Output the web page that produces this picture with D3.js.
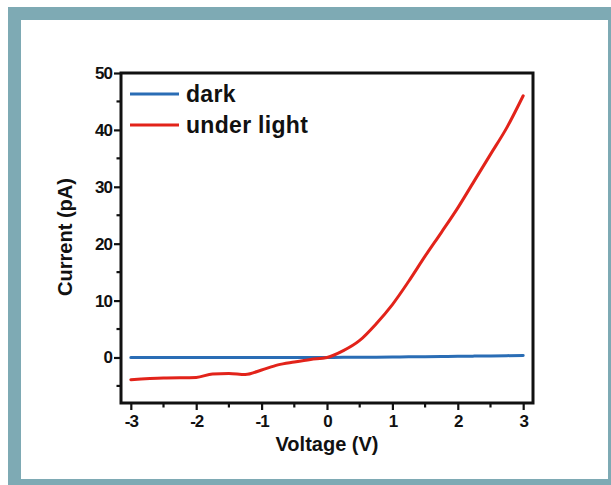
<html>
<head>
  <meta charset="utf-8" />
  <title>I-V curve</title>
  <style type="text/css">
    body { margin: 0; background: white; }
    svg { display: block; }
    text { font-family: "Liberation Sans", Arial, sans-serif; font-weight: bold; fill: #111; }
  </style>
  <script src="https://d3js.org/d3.v7.min.js"></script>
</head>
<body>
  <svg width="611" height="485"></svg>
<script>
  // data
  var voltage = [-3, -2.5, -2, -1.75, -1.5, -1.25, -1, -0.75, -0.5, -0.25, 0, 0.25, 0.5, 0.75, 1, 1.25, 1.5, 1.75, 2, 2.25, 2.5, 2.75, 3]
  var darkCurrent = [0, 0, 0, 0, 0, 0, 0, 0, 0, 0, 0, 0.02, 0.04, 0.06, 0.08, 0.11, 0.14, 0.17, 0.2, 0.24, 0.28, 0.32, 0.36]
  var lightCurrent = [-3.9, -3.6, -3.5, -2.9, -2.8, -3.0, -2.2, -1.3, -0.8, -0.35, 0, 1.2, 3.0, 5.9, 9.3, 13.4, 17.8, 22.0, 26.3, 31.0, 35.7, 40.4, 46.0]
  var seriesNames = ["dark", "under light"]
  var seriesColors = ["#2a6db5", "#e2231a"]
  var xTicks = [-3, -2, -1, 0, 1, 2, 3]
  var yTicks = [0, 10, 20, 30, 40, 50]

  var svg = d3.select("svg")

  // teal frame
  svg.append("rect").attr("x", 8).attr("y", 7).attr("width", 603).attr("height", 478).style("fill", "#7eaab4")
  svg.append("rect").attr("x", 21).attr("y", 20).attr("width", 587).attr("height", 459).style("fill", "white")

  var x = d3.scaleLinear().domain([-3.15, 3.15]).range([121, 533])
  var y = d3.scaleLinear().domain([-8, 50]).range([403, 73])

  // minor ticks
  var xMinor = d3.range(-2.5, 3, 1)
  var yMinor = d3.range(-5, 50, 10)

  var g = svg.append("g")

  g.selectAll("line.xmin").data(xMinor).enter().append("line")
    .attr("x1", function (d) { return x(d) }).attr("x2", function (d) { return x(d) })
    .attr("y1", 403).attr("y2", 407.5)
    .style("stroke", "#111").style("stroke-width", 2.2)
  g.selectAll("line.ymin").data(yMinor).enter().append("line")
    .attr("y1", function (d) { return y(d) }).attr("y2", function (d) { return y(d) })
    .attr("x1", 121).attr("x2", 116.5)
    .style("stroke", "#111").style("stroke-width", 2.2)

  var xAxis = d3.axisBottom(x).tickValues(xTicks).tickSize(7).tickPadding(5).tickFormat(d3.format("d"))
  var yAxis = d3.axisLeft(y).tickValues(yTicks).tickSize(7).tickPadding(2).tickFormat(d3.format("d"))

  var gx = svg.append("g").attr("transform", "translate(0,403)").call(xAxis)
  var gy = svg.append("g").attr("transform", "translate(121,0)").call(yAxis)
  ;[gx, gy].forEach(function (a) {
    a.select(".domain").remove()
    a.selectAll(".tick line").style("stroke", "#111").style("stroke-width", 2.2)
    a.selectAll(".tick text").style("font-size", "17px").style("font-family", "'Liberation Sans', Arial, sans-serif")
      .style("font-weight", "bold").style("fill", "#111").style("letter-spacing", "-1px")
  })
  gx.selectAll(".tick text").text(function (d) { return d < 0 ? "-" + Math.abs(d) : d })

  // data lines
  var series = [darkCurrent, lightCurrent]
  var line = d3.line()
    .x(function (d, i) { return x(voltage[i]) })
    .y(function (d) { return y(d) })
    .curve(d3.curveMonotoneX)

  svg.selectAll("path.series").data(series).enter().append("path")
    .attr("class", "series")
    .attr("d", line)
    .style("fill", "none")
    .style("stroke", function (d, i) { return seriesColors[i] })
    .style("stroke-width", 3)
    .style("stroke-linecap", "round")

  // plot box
  svg.append("rect").attr("x", 121).attr("y", 73).attr("width", 412).attr("height", 330)
    .style("fill", "none").style("stroke", "#111").style("stroke-width", 3)

  // legend
  var leg = svg.selectAll("g.leg").data(seriesNames).enter().append("g")
    .attr("transform", function (d, i) { return "translate(0," + (94 + i * 31) + ")" })
  leg.append("line").attr("x1", 130).attr("x2", 179).attr("y1", 0).attr("y2", 0)
    .style("stroke", function (d, i) { return seriesColors[i] }).style("stroke-width", 3)
  leg.append("text").attr("x", 186).attr("y", 8).style("font-size", "23px").style("letter-spacing", "0.3px")
    .text(function (d) { return d })

  // axis titles
  svg.append("text").attr("x", 327).attr("y", 451).attr("text-anchor", "middle")
    .style("font-size", "20px").text("Voltage (V)")
  svg.append("text").attr("transform", "translate(72,237) rotate(-90)").attr("text-anchor", "middle")
    .style("font-size", "20px").text("Current (pA)")
</script>
</body>
</html>
